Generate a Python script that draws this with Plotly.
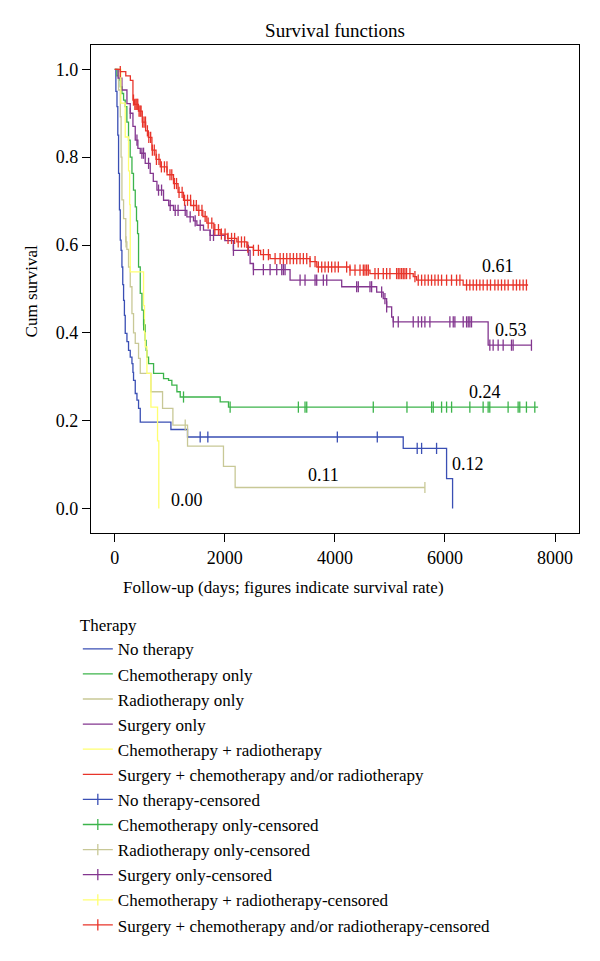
import plotly.graph_objects as go

# ---------------- data ----------------
groups = ["No therapy", "Chemotherapy only", "Radiotherapy only", "Surgery only",
          "Chemotherapy + radiotherapy", "Surgery + chemotherapy and/or radiotherapy"]
colors = ["#3a4fb4", "#3cb44b", "#c8c896", "#83368f", "#ffff70", "#e8342a"]

# step curves: event times (days) and cumulative survival
no_t = [0, 20, 40, 55, 69, 85, 100, 115, 130, 145, 160, 175, 190, 221, 250, 281, 312, 330, 341, 372,
        403, 432, 463, 1020, 1322, 5241, 6029, 6138]
no_s = [1.0, 0.95, 0.915, 0.85, 0.763, 0.68, 0.611, 0.588, 0.55, 0.51, 0.474, 0.44, 0.399, 0.38, 0.36,
        0.345, 0.33, 0.31, 0.292, 0.262, 0.247, 0.228, 0.197, 0.18, 0.163, 0.137, 0.068, 0.0]
no_c = [1552, 1691, 4044, 4770, 5495, 5575, 5847]

ch_t = [0, 40, 69, 100, 130, 160, 190, 220, 250, 280, 312, 340, 372, 395, 414, 432, 463, 494, 523, 553,
        570, 584, 614, 705, 886, 977, 1037, 1129, 1189, 1915, 2066, 7692]
ch_s = [1.0, 0.985, 0.976, 0.96, 0.945, 0.93, 0.915, 0.88, 0.839, 0.80, 0.763, 0.725, 0.687, 0.655, 0.626,
        0.55, 0.49, 0.452, 0.418, 0.383, 0.36, 0.345, 0.33, 0.308, 0.296, 0.292, 0.281, 0.266, 0.254,
        0.243, 0.231, 0.231]
ch_c = [525, 1249, 2096, 3336, 3457, 3488, 4697, 5309, 5757, 5787, 5938, 6029, 6120, 6452, 6693, 6784,
        6814, 7147, 7329, 7359, 7480, 7632]

ra_t = [0, 69, 100, 115, 130, 160, 200, 220, 250, 281, 312, 341, 372, 432, 463, 657, 868, 1056, 1322,
        1975, 2187, 5635]
ra_s = [1.0, 0.953, 0.892, 0.80, 0.703, 0.66, 0.607, 0.59, 0.55, 0.505, 0.444, 0.40, 0.376, 0.342, 0.308,
        0.266, 0.228, 0.19, 0.142, 0.096, 0.048, 0.048]
ra_c = [205, 1280, 5635]

su_t = [0, 60, 130, 221, 281, 330, 372, 420, 463, 553, 644, 700, 766, 886, 980, 1067, 1310, 1430, 1492,
        1612, 1733, 2000, 2156, 2459, 2519, 3185, 4123, 4759, 4878, 4940, 5031, 5060, 6784, 7572]
su_s = [1.0, 0.98, 0.953, 0.922, 0.9, 0.87, 0.839, 0.82, 0.809, 0.786, 0.763, 0.745, 0.725, 0.702, 0.69,
        0.679, 0.664, 0.655, 0.645, 0.634, 0.622, 0.61, 0.588, 0.558, 0.544, 0.52, 0.505, 0.493, 0.478,
        0.459, 0.436, 0.425, 0.372, 0.372]
su_c = [281, 403, 493, 523, 614, 795, 850, 1007, 1098, 1150, 1280, 1370, 1461, 1552, 1733, 1794, 2156,
        2428, 2519, 2700, 2822, 2943, 3034, 3064, 3094, 3367, 3457, 3639, 3669, 3790, 3851, 4395, 4425,
        4637, 4667, 4849, 4909, 4940, 5060, 5151, 5423, 5514, 5575, 5635, 5726, 6089, 6150, 6180, 6331,
        6392, 6422, 6452, 6482, 6815, 6875, 6966, 7057, 7208, 7238, 7571]

cr_t = [0, 110, 190, 250, 270, 281, 523, 540, 553, 584, 657, 777, 800]
cr_s = [1.0, 0.923, 0.846, 0.769, 0.692, 0.539, 0.462, 0.40, 0.368, 0.308, 0.231, 0.154, 0.0]
cr_c = []

sc_t = [0, 100, 200, 283, 330, 360, 430, 500, 560, 610, 675, 750, 826, 950, 1067, 1150, 1249, 1380,
        1492, 1600, 1673, 1800, 1915, 2050, 2218, 2400, 2519, 2650, 2822, 3548, 3670, 4274, 4637, 5423,
        5484, 6330, 7510]
sc_s = [1.0, 0.995, 0.985, 0.975, 0.93, 0.92, 0.905, 0.88, 0.86, 0.845, 0.816, 0.795, 0.778, 0.76, 0.74,
        0.72, 0.702, 0.69, 0.679, 0.665, 0.65, 0.635, 0.625, 0.615, 0.607, 0.595, 0.588, 0.578, 0.569,
        0.562, 0.55, 0.543, 0.535, 0.528, 0.52, 0.509, 0.509]
sc_c = [100, 340, 365, 385, 402, 418, 441, 462, 478, 505, 532, 558, 593, 618, 652, 683, 718, 757, 803,
        847, 902, 948, 1003, 1036, 1084, 1122, 1168, 1224, 1268, 1322, 1377, 1433, 1482, 1527, 1584,
        1642, 1697, 1763, 1818, 1884, 1937, 2004, 2058, 2122, 2177, 2243, 2302, 2358, 2417,
        2520, 2610, 2701, 2792, 2913, 3004, 3064, 3125, 3185, 3246, 3306, 3367, 3427, 3488, 3548, 3639,
        3699, 3760, 3820, 3881, 3941, 4002, 4062, 4213, 4274, 4365, 4456, 4516, 4546, 4577, 4607, 4728,
        4788, 4879, 4940, 5000, 5121, 5151, 5181, 5212, 5242, 5272, 5302, 5363, 5454, 5514, 5575, 5635,
        5696, 5756, 5817, 5877, 5938, 6029, 6119, 6210, 6271, 6392, 6452, 6513, 6573, 6634, 6694, 6767,
        6827, 6906, 6966, 7027, 7087, 7148, 7238, 7299, 7359, 7420, 7480]

curves_t = [no_t, ch_t, ra_t, su_t, cr_t, sc_t]
curves_s = [no_s, ch_s, ra_s, su_s, cr_s, sc_s]
censors = [no_c, ch_c, ra_c, su_c, cr_c, sc_c]

end_labels = ["0.12", "0.24", "0.11", "0.53", "0.00", "0.61"]
label_x = [6416, 6724, 3784, 7193, 1316, 6965]
label_y = [0.1025, 0.2656, 0.0759, 0.4062, 0.019, 0.553]

x_ticks = [0, 2000, 4000, 6000, 8000]
y_ticks = [0.0, 0.2, 0.4, 0.6, 0.8, 1.0]

# ---------------- figure ----------------
FONT = "Liberation Serif"
fig = go.Figure()


def surv_at(ts, ss, t):
    v = ss[0]
    for ti, si in zip(ts, ss):
        if ti <= t:
            v = si
        else:
            break
    return v


for i, g in enumerate(groups):
    fig.add_trace(go.Scatter(
        x=curves_t[i], y=curves_s[i], mode="lines", name=g,
        line=dict(color=colors[i], width=1.3, shape="hv"),
        legendgroup="a%d" % i, hoverinfo="skip"))

for i, g in enumerate(groups):
    xs, ys = [], []
    for c in censors[i]:
        xs += [c, None]
        ys += [surv_at(curves_t[i], curves_s[i], c), None]
    if not xs:
        xs, ys = [None], [None]
    fig.add_trace(go.Scatter(
        x=xs, y=ys, mode="lines+markers", name=g + "-censored",
        line=dict(color=colors[i], width=1.3),
        marker=dict(symbol="line-ns-open", size=8, color=colors[i],
                    line=dict(color=colors[i], width=1.3)),
        legendgroup="b%d" % i, hoverinfo="skip", connectgaps=False))

for lab, lx, ly in zip(end_labels, label_x, label_y):
    fig.add_annotation(x=lx, y=ly, text=lab, showarrow=False,
                       font=dict(family=FONT, size=18, color="black"),
                       xanchor="center", yanchor="middle")

# axis titles as annotations (positioned like the reference)
fig.add_annotation(xref="paper", yref="paper", x=0.395, y=-0.1127,
                   text="Follow-up (days; figures indicate survival rate)", showarrow=False,
                   font=dict(family=FONT, size=17, color="black"),
                   xanchor="center", yanchor="middle")
fig.add_annotation(xref="paper", yref="paper", x=-0.123, y=0.495, text="Cum survival",
                   textangle=-90, showarrow=False,
                   font=dict(family=FONT, size=17, color="black"),
                   xanchor="center", yanchor="middle")

fig.update_layout(
    width=600, height=961,
    margin=dict(l=91, r=21, t=45, b=428),
    paper_bgcolor="white", plot_bgcolor="white",
    font=dict(family=FONT, size=17, color="black"),
    title=dict(text="Survival functions", x=0.5, xref="paper", y=1 - 30 / 961,
               yanchor="middle", font=dict(family=FONT, size=19, color="black")),
    showlegend=True,
    legend=dict(
        title=dict(text="Therapy", font=dict(family=FONT, size=17)),
        x=-0.027, xanchor="left", y=-0.156, yanchor="top",
        traceorder="grouped", tracegroupgap=0,
        font=dict(family=FONT, size=17, color="black"),
        bgcolor="rgba(0,0,0,0)", borderwidth=0),
    xaxis=dict(range=[-432, 8435], tickvals=x_ticks, ticks="outside", ticklen=8,
               tickwidth=1.2, tickcolor="black", showgrid=False, zeroline=False,
               showline=True, linecolor="black", linewidth=1.3, mirror=True,
               tickfont=dict(family=FONT, size=18, color="black")),
    yaxis=dict(range=[-0.0556, 1.0554], tickvals=y_ticks, tickformat=".1f", ticks="outside",
               ticklen=8, tickwidth=1.2, tickcolor="black", showgrid=False, zeroline=False,
               showline=True, linecolor="black", linewidth=1.3, mirror=True,
               tickfont=dict(family=FONT, size=18, color="black")),
)

fig.write_html("out.html", config={"displayModeBar": False},
               post_script="document.body.style.margin='0';")
